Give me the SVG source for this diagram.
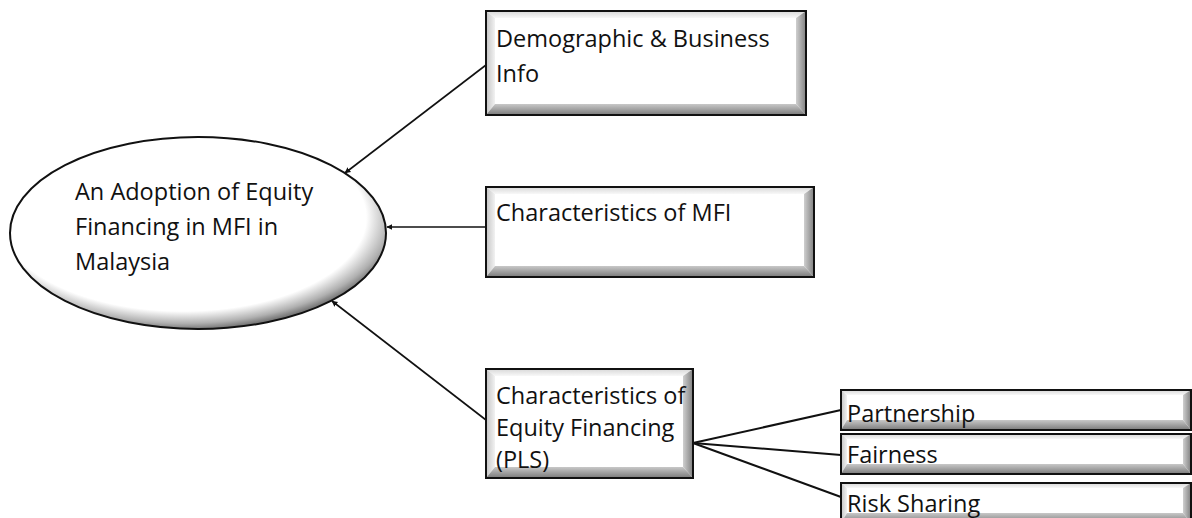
<svg xmlns="http://www.w3.org/2000/svg" width="1192" height="518" viewBox="0 0 1192 518">
<style>
text{font-family:"Open Sans","Liberation Sans",sans-serif;font-size:23.5px;fill:#111}
.frame{fill:none;stroke:#111;stroke-width:2}
.face{fill:#fff}
.bl{fill:url(#gL)}.bt{fill:url(#gT)}.br{fill:url(#gR)}.bb{fill:url(#gB)}
.arrow{stroke:#111;stroke-width:1.6;fill:none;marker-end:url(#ah)}
.link{stroke:#111;stroke-width:2;fill:none}
</style>
<defs>
<linearGradient id="gL" x1="0" y1="0" x2="1" y2="0"><stop offset="0" stop-color="#c4c4c4"/><stop offset="1" stop-color="#f2f2f2"/></linearGradient>
<linearGradient id="gT" x1="0" y1="0" x2="0" y2="1"><stop offset="0" stop-color="#d8d8d8"/><stop offset="1" stop-color="#f8f8f8"/></linearGradient>
<linearGradient id="gR" x1="0" y1="0" x2="1" y2="0"><stop offset="0" stop-color="#cfcfcf"/><stop offset="1" stop-color="#808080"/></linearGradient>
<linearGradient id="gB" x1="0" y1="0" x2="0" y2="1"><stop offset="0" stop-color="#c8c8c8"/><stop offset="1" stop-color="#7a7a7a"/></linearGradient>
<radialGradient id="gE" cx="0.46" cy="0.42" r="0.58"><stop offset="0" stop-color="#fff"/><stop offset="0.84" stop-color="#fff"/><stop offset="0.95" stop-color="#b0b0b0"/><stop offset="1" stop-color="#7a7a7a"/></radialGradient>
<marker id="ah" viewBox="0 0 10 10" refX="9" refY="5" markerWidth="6" markerHeight="6" orient="auto" markerUnits="userSpaceOnUse"><path d="M0,0 L10,5 L0,10 z" fill="#111"/></marker>
</defs>

<g id="connectors">
<line class="arrow" x1="486" y1="65" x2="345" y2="173"/>
<line class="arrow" x1="486" y1="227" x2="387" y2="227"/>
<line class="arrow" x1="486" y1="420" x2="332" y2="301"/>
<line class="link" x1="693" y1="443" x2="841" y2="410"/>
<line class="link" x1="693" y1="443" x2="841" y2="455"/>
<line class="link" x1="693" y1="443" x2="841" y2="497"/>
</g>

<g id="node-adoption">
<ellipse cx="198" cy="233" rx="188" ry="96" fill="url(#gE)" stroke="#111" stroke-width="2"/>
<text x="75" y="200">An Adoption of Equity</text>
<text x="75" y="235">Financing in MFI in</text>
<text x="75" y="270">Malaysia</text>
</g>

<g id="node-demographic">
<rect class="face" x="486" y="11" width="320" height="104"/>
<polygon class="bt" points="486,11 806,11 796,18 495,18"/>
<polygon class="bl" points="486,11 495,18 495,104 486,115"/>
<polygon class="br" points="806,11 806,115 796,104 796,18"/>
<polygon class="bb" points="486,115 495,104 796,104 806,115"/>
<rect class="frame" x="486" y="11" width="320" height="104"/>
<text x="496" y="47">Demographic &amp; Business</text>
<text x="496" y="82">Info</text>
</g>

<g id="node-mfi">
<rect class="face" x="486" y="187" width="328" height="90"/>
<polygon class="bt" points="486,187 814,187 804,194 495,194"/>
<polygon class="bl" points="486,187 495,194 495,266 486,277"/>
<polygon class="br" points="814,187 814,277 804,266 804,194"/>
<polygon class="bb" points="486,277 495,266 804,266 814,277"/>
<rect class="frame" x="486" y="187" width="328" height="90"/>
<text x="496" y="221">Characteristics of MFI</text>
</g>

<g id="node-equity">
<rect class="face" x="486" y="369" width="207" height="109"/>
<polygon class="bt" points="486,369 693,369 683,376 495,376"/>
<polygon class="bl" points="486,369 495,376 495,467 486,478"/>
<polygon class="br" points="693,369 693,478 683,467 683,376"/>
<polygon class="bb" points="486,478 495,467 683,467 693,478"/>
<rect class="frame" x="486" y="369" width="207" height="109"/>
<text x="496" y="404">Characteristics of</text>
<text x="496" y="436">Equity Financing</text>
<text x="496" y="468">(PLS)</text>
</g>

<g id="node-partnership">
<rect class="face" x="841" y="390" width="350" height="40"/>
<polygon class="bt" points="841,390 1191,390 1183,395 847,395"/>
<polygon class="bl" points="841,390 847,395 847,420 841,430"/>
<polygon class="br" points="1191,390 1191,430 1183,420 1183,395"/>
<polygon class="bb" points="841,430 847,420 1183,420 1191,430"/>
<rect class="frame" x="841" y="390" width="350" height="40"/>
<text x="847" y="422">Partnership</text>
</g>

<g id="node-fairness">
<rect class="face" x="841" y="434" width="350" height="40"/>
<polygon class="bt" points="841,434 1191,434 1183,439 847,439"/>
<polygon class="bl" points="841,434 847,439 847,464 841,474"/>
<polygon class="br" points="1191,434 1191,474 1183,464 1183,439"/>
<polygon class="bb" points="841,474 847,464 1183,464 1191,474"/>
<rect class="frame" x="841" y="434" width="350" height="40"/>
<text x="847" y="463">Fairness</text>
</g>

<g id="node-risk">
<rect class="face" x="841" y="483" width="350" height="40"/>
<polygon class="bt" points="841,483 1191,483 1183,488 847,488"/>
<polygon class="bl" points="841,483 847,488 847,513 841,523"/>
<polygon class="br" points="1191,483 1191,523 1183,513 1183,488"/>
<polygon class="bb" points="841,523 847,513 1183,513 1191,523"/>
<rect class="frame" x="841" y="483" width="350" height="40"/>
<text x="847" y="512">Risk Sharing</text>
</g>
</svg>
